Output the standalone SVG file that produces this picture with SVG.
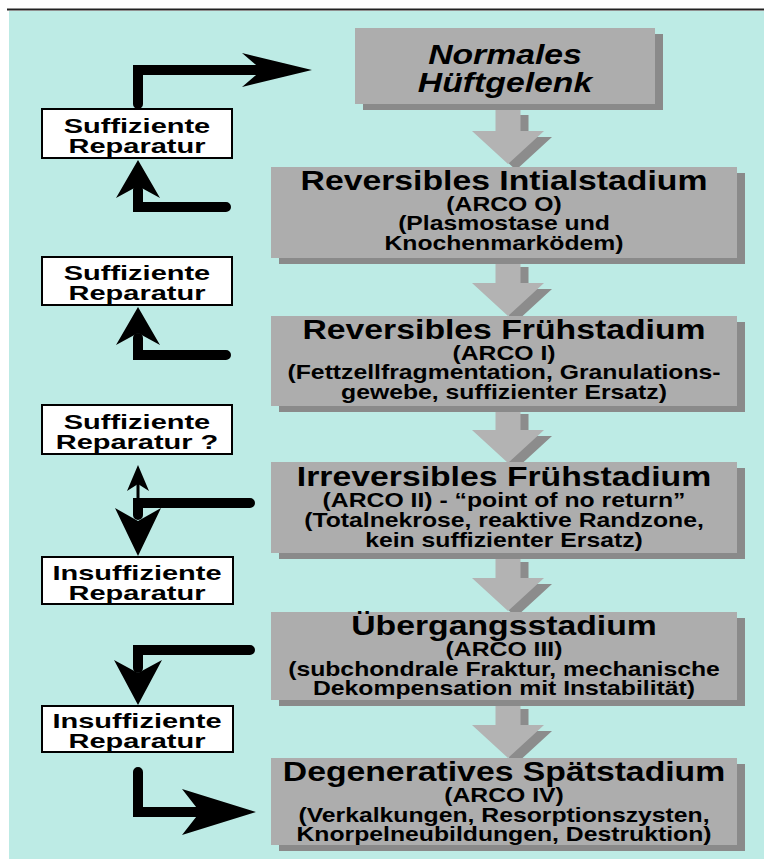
<svg xmlns="http://www.w3.org/2000/svg" width="764" height="859" viewBox="0 0 764 859">
<style>
.bg{fill:#bdebe5}
.box{fill:#adadad}
.shadow{fill:#8a8a8a}
.lbox{fill:#ffffff;stroke:#000;stroke-width:2}
.t{font-family:"Liberation Sans",Arial,sans-serif;font-weight:bold;fill:#000;text-anchor:middle}
.title{font-size:27px}
.sub{font-size:19.5px}
.lt{font-size:21px}
.ga{fill:#b3b3b3}
.gs{fill:#8c8c8c}
.head{fill:#000;stroke:none}
</style>
<defs>
<path id="garrow" d="M-12.5 0 H12.5 V22 H36 L0 55 L-36 22 H-12.5 Z"/>
</defs>
<rect x="0" y="0" width="764" height="859" fill="#ffffff"/>
<rect class="bg" x="9" y="11" width="755" height="848"/>
<line x1="7" y1="9.5" x2="764" y2="9.5" stroke="#222" stroke-width="2"/>

<g id="gray-arrows">
<use href="#garrow" class="gs" transform="translate(516 115)"/>
<use href="#garrow" class="ga" transform="translate(508 109)"/>
<use href="#garrow" class="gs" transform="translate(516 267)"/>
<use href="#garrow" class="ga" transform="translate(508 261)"/>
<use href="#garrow" class="gs" transform="translate(516 414)"/>
<use href="#garrow" class="ga" transform="translate(508 408)"/>
<use href="#garrow" class="gs" transform="translate(516 562)"/>
<use href="#garrow" class="ga" transform="translate(508 556)"/>
<use href="#garrow" class="gs" transform="translate(516 709)"/>
<use href="#garrow" class="ga" transform="translate(508 703)"/>
</g>

<g id="n-normal">
<rect class="shadow" x="363" y="34" width="300" height="76"/>
<rect class="box" x="355" y="28" width="300" height="76"/>
<g transform="translate(505 0) scale(1.25 1)">
<text class="t title" font-style="italic" x="0" y="64">Normales</text>
<text class="t title" font-style="italic" x="0" y="92">Hüftgelenk</text>
</g>
</g>

<g id="n-arco0">
<rect class="shadow" x="279" y="173" width="466" height="91"/>
<rect class="box" x="271" y="167" width="466" height="91"/>
<g transform="translate(504 0) scale(1.25 1)">
<text class="t title" x="0" y="190">Reversibles Intialstadium</text>
</g>
<g transform="translate(504 0) scale(1.27 1)">
<text class="t sub" x="0" y="211">(ARCO O)</text>
<text class="t sub" x="0" y="230">(Plasmostase und</text>
<text class="t sub" x="0" y="250">Knochenmarködem)</text>
</g>
</g>

<g id="n-arco1">
<rect class="shadow" x="279" y="322" width="466" height="90"/>
<rect class="box" x="271" y="316" width="466" height="90"/>
<g transform="translate(504 0) scale(1.25 1)">
<text class="t title" x="0" y="339">Reversibles Frühstadium</text>
</g>
<g transform="translate(504 0) scale(1.27 1)">
<text class="t sub" x="0" y="360">(ARCO I)</text>
<text class="t sub" x="0" y="379">(Fettzellfragmentation, Granulations-</text>
<text class="t sub" x="0" y="399">gewebe, suffizienter Ersatz)</text>
</g>
</g>

<g id="n-arco2">
<rect class="shadow" x="279" y="468" width="466" height="91"/>
<rect class="box" x="271" y="462" width="466" height="91"/>
<g transform="translate(504 0) scale(1.25 1)">
<text class="t title" x="0" y="486">Irreversibles Frühstadium</text>
</g>
<g transform="translate(504 0) scale(1.27 1)">
<text class="t sub" x="0" y="507">(ARCO II) -  “point of no return”</text>
<text class="t sub" x="0" y="527">(Totalnekrose, reaktive Randzone,</text>
<text class="t sub" x="0" y="547">kein suffizienter Ersatz)</text>
</g>
</g>

<g id="n-arco3">
<rect class="shadow" x="279" y="618" width="466" height="88"/>
<rect class="box" x="271" y="612" width="466" height="88"/>
<g transform="translate(504 0) scale(1.25 1)">
<text class="t title" x="0" y="635">Übergangsstadium</text>
</g>
<g transform="translate(504 0) scale(1.27 1)">
<text class="t sub" x="0" y="656">(ARCO III)</text>
<text class="t sub" x="0" y="676">(subchondrale Fraktur, mechanische</text>
<text class="t sub" x="0" y="695">Dekompensation mit Instabilität)</text>
</g>
</g>

<g id="n-arco4">
<rect class="shadow" x="279" y="764" width="466" height="87"/>
<rect class="box" x="271" y="758" width="466" height="87"/>
<g transform="translate(504 0) scale(1.25 1)">
<text class="t title" x="0" y="781">Degeneratives Spätstadium</text>
</g>
<g transform="translate(504 0) scale(1.27 1)">
<text class="t sub" x="0" y="802">(ARCO IV)</text>
<text class="t sub" x="0" y="822">(Verkalkungen, Resorptionszysten,</text>
<text class="t sub" x="0" y="841">Knorpelneubildungen, Destruktion)</text>
</g>
</g>

<g id="l-suff1">
<rect class="lbox" x="42" y="109" width="190" height="49"/>
<g transform="translate(137 0) scale(1.38 1)">
<text class="t lt" x="0" y="133">Suffiziente</text>
<text class="t lt" x="0" y="153">Reparatur</text>
</g>
</g>

<g id="l-suff2">
<rect class="lbox" x="42" y="257" width="190" height="48"/>
<g transform="translate(137 0) scale(1.38 1)">
<text class="t lt" x="0" y="280">Suffiziente</text>
<text class="t lt" x="0" y="300">Reparatur</text>
</g>
</g>

<g id="l-suff3">
<rect class="lbox" x="42" y="405" width="190" height="49"/>
<g transform="translate(137 0) scale(1.38 1)">
<text class="t lt" x="0" y="429">Suffiziente</text>
<text class="t lt" x="0" y="449">Reparatur ?</text>
</g>
</g>

<g id="l-insuff1">
<rect class="lbox" x="42" y="557" width="191" height="47"/>
<g transform="translate(137 0) scale(1.38 1)">
<text class="t lt" x="0" y="580">Insuffiziente</text>
<text class="t lt" x="0" y="600">Reparatur</text>
</g>
</g>

<g id="l-insuff2">
<rect class="lbox" x="42" y="706" width="191" height="46"/>
<g transform="translate(137 0) scale(1.38 1)">
<text class="t lt" x="0" y="728">Insuffiziente</text>
<text class="t lt" x="0" y="748">Reparatur</text>
</g>
</g>

<g id="connectors" fill="none" stroke="#000" stroke-width="10" stroke-linecap="round" stroke-linejoin="miter">
<path d="M138 104 V70 H262"/>
<polygon class="head" points="312,70 242,53 262,70 242,87"/>
<path d="M226 207 H138 V190"/>
<polygon class="head" points="138,160 116,198 138,186 160,198"/>
<path d="M226 355 H138 V338"/>
<polygon class="head" points="138,307 116,345 138,333 160,345"/>
<path d="M250 503 H138 V515"/>
<path d="M138 503 V485" stroke-width="3"/>
<polygon class="head" points="138,465 127,491 138,484 149,491"/>
<polygon class="head" points="138,556 115,508 138,521 161,508"/>
<path d="M250 650 H138 V668"/>
<polygon class="head" points="138,705 114,660 138,673 162,660"/>
<path d="M138 772 V812 H200"/>
<polygon class="head" points="256,812 182,789 200,812 182,835"/>
</g>
</svg>
